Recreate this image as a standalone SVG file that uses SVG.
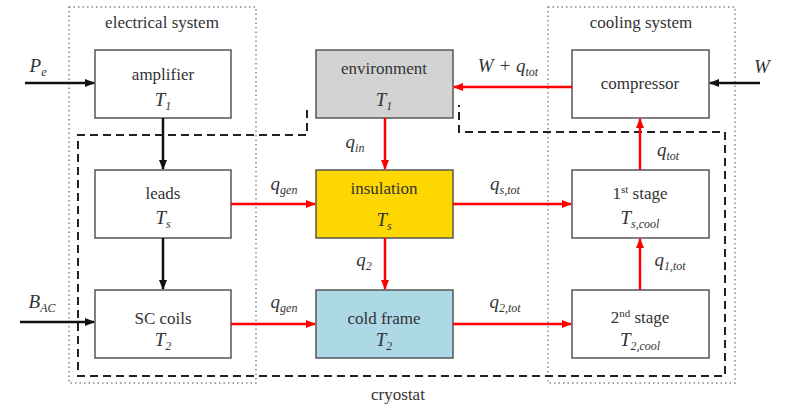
<svg xmlns="http://www.w3.org/2000/svg" width="794" height="410" viewBox="0 0 794 410">
<style>
.t{font-family:"Liberation Serif","DejaVu Serif",serif;font-size:17px;fill:#333;text-anchor:middle}
.i{font-style:italic;font-size:19px}
.b{fill:#fff;stroke:#555;stroke-width:1.5}
.k{stroke:#111;stroke-width:2.5;fill:none}
.r{stroke:#f00;stroke-width:2.5;fill:none}
</style>
<defs>
<marker id="ak" markerWidth="10" markerHeight="8" refX="9" refY="4" orient="auto" markerUnits="userSpaceOnUse"><path d="M0,0L10,4L0,8z" fill="#111"/></marker>
<marker id="ar" markerWidth="10" markerHeight="8" refX="9" refY="4" orient="auto" markerUnits="userSpaceOnUse"><path d="M0,0L10,4L0,8z" fill="#f00"/></marker>
</defs>
<rect width="794" height="410" fill="#fff"/>
<g fill="none" stroke="#888" stroke-width="1.5" stroke-dasharray="1.5,3">
<rect x="69" y="7" width="187" height="376"/>
<rect x="548" y="7" width="187" height="376"/>
</g>
<path d="M307,110V135H78V376H725V132H459V105" fill="none" stroke="#222" stroke-width="2" stroke-dasharray="8,5"/>
<text class="t" x="162" y="28">electrical system</text>
<text class="t" x="641" y="28">cooling system</text>
<text class="t" x="398" y="400">cryostat</text>
<g id="amplifier"><rect class="b" x="95" y="50" width="136" height="68"/><text class="t" x="163" y="80">amplifier</text><text class="t i" x="163" y="106">T<tspan font-size="12" dy="4">1</tspan></text></g>
<g id="environment"><rect class="b" x="316" y="50" width="137" height="68" style="fill:#d3d3d3"/><text class="t" x="384" y="74">environment</text><text class="t i" x="384" y="106">T<tspan font-size="12" dy="4">1</tspan></text></g>
<g id="compressor"><rect class="b" x="572" y="50" width="137" height="68"/><text class="t" x="640" y="89">compressor</text></g>
<g id="leads"><rect class="b" x="95" y="170" width="136" height="68"/><text class="t" x="163" y="199">leads</text><text class="t i" x="163" y="224">T<tspan font-size="12" dy="4">s</tspan></text></g>
<g id="insulation"><rect class="b" x="316" y="170" width="137" height="68" style="fill:#ffd700"/><text class="t" x="384" y="194">insulation</text><text class="t i" x="384" y="226">T<tspan font-size="12" dy="4">s</tspan></text></g>
<g id="stage1"><rect class="b" x="572" y="170" width="137" height="68"/><text class="t" x="640" y="199">1<tspan font-size="11" dy="-6">st</tspan><tspan dy="6"> stage</tspan></text><text class="t i" x="640" y="224">T<tspan font-size="12" dy="4">s,cool</tspan></text></g>
<g id="sccoils"><rect class="b" x="95" y="290" width="136" height="68"/><text class="t" x="163" y="324">SC coils</text><text class="t i" x="163" y="346">T<tspan font-size="12" dy="4">2</tspan></text></g>
<g id="coldframe"><rect class="b" x="316" y="290" width="137" height="68" style="fill:#add8e6"/><text class="t" x="384" y="324">cold frame</text><text class="t i" x="384" y="346">T<tspan font-size="12" dy="4">2</tspan></text></g>
<g id="stage2"><rect class="b" x="572" y="290" width="137" height="68"/><text class="t" x="640" y="323">2<tspan font-size="11" dy="-6">nd</tspan><tspan dy="6"> stage</tspan></text><text class="t i" x="640" y="346">T<tspan font-size="12" dy="4">2,cool</tspan></text></g>
<g id="connectors">
<path class="k" d="M25,83H94" marker-end="url(#ak)"/>
<path class="k" d="M760,83H710" marker-end="url(#ak)"/>
<path class="k" d="M20,322H94" marker-end="url(#ak)"/>
<path class="k" d="M163,118V169" marker-end="url(#ak)"/>
<path class="k" d="M163,238V289" marker-end="url(#ak)"/>
<path class="r" d="M572,87H454" marker-end="url(#ar)"/>
<path class="r" d="M385,118V169" marker-end="url(#ar)"/>
<path class="r" d="M385,238V289" marker-end="url(#ar)"/>
<path class="r" d="M231,204H315" marker-end="url(#ar)"/>
<path class="r" d="M231,324H315" marker-end="url(#ar)"/>
<path class="r" d="M453,204H571" marker-end="url(#ar)"/>
<path class="r" d="M453,324H571" marker-end="url(#ar)"/>
<path class="r" d="M640,170V119" marker-end="url(#ar)"/>
<path class="r" d="M640,290V239" marker-end="url(#ar)"/>
</g>
<g class="t i">
<text x="38" y="72">P<tspan font-size="12" dy="4">e</tspan></text>
<text x="762" y="73">W</text>
<text x="42" y="308">B<tspan font-size="12" dy="4">AC</tspan></text>
<text x="508" y="72">W + q<tspan font-size="12" dy="4">tot</tspan></text>
<text x="355" y="148">q<tspan font-size="12" dy="4">in</tspan></text>
<text x="364" y="266">q<tspan font-size="12" dy="4">2</tspan></text>
<text x="284" y="190">q<tspan font-size="12" dy="4">gen</tspan></text>
<text x="284" y="308">q<tspan font-size="12" dy="4">gen</tspan></text>
<text x="505" y="190">q<tspan font-size="12" dy="4">s,tot</tspan></text>
<text x="505" y="308">q<tspan font-size="12" dy="4">2,tot</tspan></text>
<text x="668" y="156">q<tspan font-size="12" dy="4">tot</tspan></text>
<text x="670" y="266">q<tspan font-size="12" dy="4">1,tot</tspan></text>
</g>
</svg>
